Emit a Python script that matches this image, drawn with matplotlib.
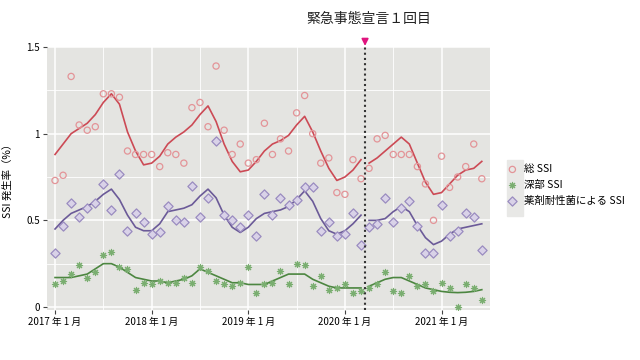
import numpy as np
import matplotlib
matplotlib.use("Agg")
import matplotlib.pyplot as plt
from matplotlib.patches import Rectangle
from matplotlib.ticker import MultipleLocator, FixedLocator

plt.rcParams['font.family'] = ['Noto Sans CJK JP', 'DejaVu Sans']

# months since 2017-01 (0 .. 53 = 2017-01 .. 2021-06)
months = np.arange(54)
break_at = 39  # first month after the state of emergency (2020-04)
emergency_x = 38.5

total_pts = [0.73, 0.76, 1.33, 1.05, 1.02, 1.04, 1.23, 1.23, 1.21, 0.90,
             0.88, 0.88, 0.88, 0.81, 0.89, 0.88, 0.83, 1.15, 1.18, 1.04,
             1.39, 1.02, 0.88, 0.94, 0.83, 0.85, 1.06, 0.88, 0.97, 0.90,
             1.12, 1.22, 1.00, 0.83, 0.86, 0.66, 0.65, 0.85, 0.74, 0.80,
             0.97, 0.99, 0.88, 0.88, 0.88, 0.81, 0.71, 0.50, 0.87, 0.69,
             0.75, 0.81, 0.94, 0.74]
total_fit = [0.88, 0.94, 1.00, 1.03, 1.06, 1.11, 1.18, 1.23, 1.17, 1.01,
             0.90, 0.82, 0.83, 0.87, 0.94, 0.98, 1.01, 1.05, 1.11, 1.16,
             1.07, 0.94, 0.84, 0.78, 0.79, 0.84, 0.90, 0.94, 0.96, 0.99,
             1.05, 1.10, 1.01, 0.90, 0.80, 0.73, 0.75, 0.79, 0.85, 0.83,
             0.86, 0.90, 0.94, 0.98, 0.94, 0.83, 0.72, 0.65, 0.66, 0.71,
             0.76, 0.79, 0.80, 0.84]

deep_pts = [0.13, 0.15, 0.19, 0.24, 0.17, 0.20, 0.30, 0.32, 0.23, 0.22,
            0.10, 0.14, 0.13, 0.15, 0.14, 0.14, 0.17, 0.14, 0.23, 0.21,
            0.15, 0.13, 0.12, 0.14, 0.23, 0.08, 0.13, 0.14, 0.21, 0.13,
            0.25, 0.24, 0.12, 0.18, 0.10, 0.11, 0.13, 0.08, 0.09, 0.11,
            0.13, 0.20, 0.09, 0.08, 0.18, 0.12, 0.13, 0.09, 0.14, 0.11,
            0.00, 0.13, 0.11, 0.04]
deep_fit = [0.17, 0.17, 0.17, 0.18, 0.19, 0.22, 0.25, 0.25, 0.23, 0.20,
            0.17, 0.16, 0.15, 0.15, 0.14, 0.15, 0.16, 0.18, 0.22, 0.20,
            0.18, 0.16, 0.14, 0.14, 0.13, 0.13, 0.13, 0.15, 0.17, 0.19,
            0.19, 0.19, 0.16, 0.14, 0.12, 0.11, 0.11, 0.11, 0.11, 0.12,
            0.14, 0.16, 0.17, 0.17, 0.15, 0.13, 0.11, 0.10, 0.09, 0.085,
            0.083, 0.085, 0.09, 0.10]

amr_pts = [0.31, 0.47, 0.60, 0.52, 0.57, 0.60, 0.71, 0.56, 0.77, 0.44,
           0.54, 0.49, 0.42, 0.43, 0.58, 0.50, 0.49, 0.70, 0.52, 0.63,
           0.96, 0.53, 0.50, 0.46, 0.53, 0.41, 0.65, 0.53, 0.63, 0.59,
           0.62, 0.69, 0.69, 0.44, 0.49, 0.41, 0.42, 0.54, 0.36, 0.46,
           0.48, 0.63, 0.49, 0.57, 0.61, 0.47, 0.31, 0.31, 0.59, 0.41,
           0.44, 0.54, 0.52, 0.33]
amr_fit = [0.45, 0.50, 0.54, 0.56, 0.58, 0.61, 0.65, 0.68, 0.62, 0.53,
           0.46, 0.44, 0.44, 0.48, 0.55, 0.56, 0.57, 0.59, 0.64, 0.68,
           0.63, 0.53, 0.46, 0.43, 0.46, 0.51, 0.54, 0.55, 0.56, 0.58,
           0.62, 0.67, 0.61, 0.51, 0.44, 0.42, 0.44, 0.48, 0.53, 0.50,
           0.50, 0.51, 0.55, 0.58, 0.55, 0.47, 0.40, 0.36, 0.38, 0.42,
           0.45, 0.46, 0.47, 0.48]

year_ticks = [0, 12, 24, 36, 48]
year_labels = ['2017 年 1 月', '2018 年 1 月', '2019 年 1 月', '2020 年 1 月', '2021 年 1 月']
y_ticks = [0, 0.5, 1, 1.5]
y_labels = ['0', '0.5', '1', '1.5']

c_red, c_red_pt = '#cc4a55', '#e39498'
c_grn, c_grn_pt = '#4c8640', '#7aae70'
c_pur, c_pur_pt = '#6b5a98', '#9a8cc0'

fig = plt.figure(figsize=(6.4, 3.6), dpi=100)
ax = fig.add_axes([0.0734, 0.139, 0.692, 0.7305])
ax.set_facecolor('#e4e4e1')
for s in ax.spines.values():
    s.set_visible(False)

ax.set_xlim(-1, 54)
ax.set_ylim(-0.017, 1.5)
ax.set_xticks(year_ticks)
ax.set_xticklabels(year_labels)
ax.xaxis.set_minor_locator(FixedLocator([6, 18, 30, 42]))
ax.set_yticks(y_ticks)
ax.set_yticklabels(y_labels)
ax.yaxis.set_minor_locator(MultipleLocator(0.25))
ax.grid(which='major', color='white', lw=1.1)
ax.grid(which='minor', color='white', lw=0.6)
ax.set_axisbelow(True)
ax.tick_params(which='major', length=3, width=0.8, color='#444444', labelsize=7, pad=2)
ax.tick_params(which='minor', length=0)
ax.set_ylabel('SSI 発生率（%）', fontsize=7.5, labelpad=10)

m = np.array(months)
pre = m < break_at
post = ~pre
for fit, col in [(total_fit, c_red), (deep_fit, c_grn), (amr_fit, c_pur)]:
    f = np.array(fit)
    ax.plot(m[pre], f[pre], color=col, lw=1.2, zorder=3)
    ax.plot(m[post], f[post], color=col, lw=1.2, zorder=3)

h1 = ax.scatter(months, total_pts, s=20, facecolors='none', edgecolors=c_red_pt,
                linewidths=0.9, zorder=4, label='総 SSI')
h2 = ax.scatter(months, deep_pts, s=20, marker=(8, 2, 0), color=c_grn_pt,
                linewidths=0.8, zorder=4, label='深部 SSI')
h3 = ax.scatter(months, amr_pts, s=22, marker='D', facecolors='#d9d2e8', edgecolors=c_pur_pt,
                linewidths=0.9, zorder=4, label='薬剤耐性菌による SSI')

ax.axvline(emergency_x, color='#333333', lw=1.5, ls=(0, (1, 1.5)), zorder=5)
ax.annotate('', xy=(emergency_x, 1.49), xytext=(emergency_x, 1.56),
            xycoords='data', textcoords='data', annotation_clip=False,
            arrowprops=dict(arrowstyle='-|>', color='#e0157f', lw=1.2, mutation_scale=10))
ax.text(emergency_x + 0.5, 1.62, '緊急事態宣言１回目', ha='center', va='bottom', fontsize=10,
        color='#222222', clip_on=False)

fig.patches.append(Rectangle((507 / 640, 1 - 216 / 360), 16 / 640, 56 / 360,
                             transform=fig.transFigure, color='#e8e8e6', zorder=0))
fig.legend(handles=[h1, h2, h3], loc='upper left', bbox_to_anchor=(503 / 640, 1 - 160 / 360),
           frameon=False, fontsize=7.5, handlelength=1.0, handletextpad=0.6,
           labelspacing=0.55, borderaxespad=0)

fig.savefig('out.png', dpi=100)
